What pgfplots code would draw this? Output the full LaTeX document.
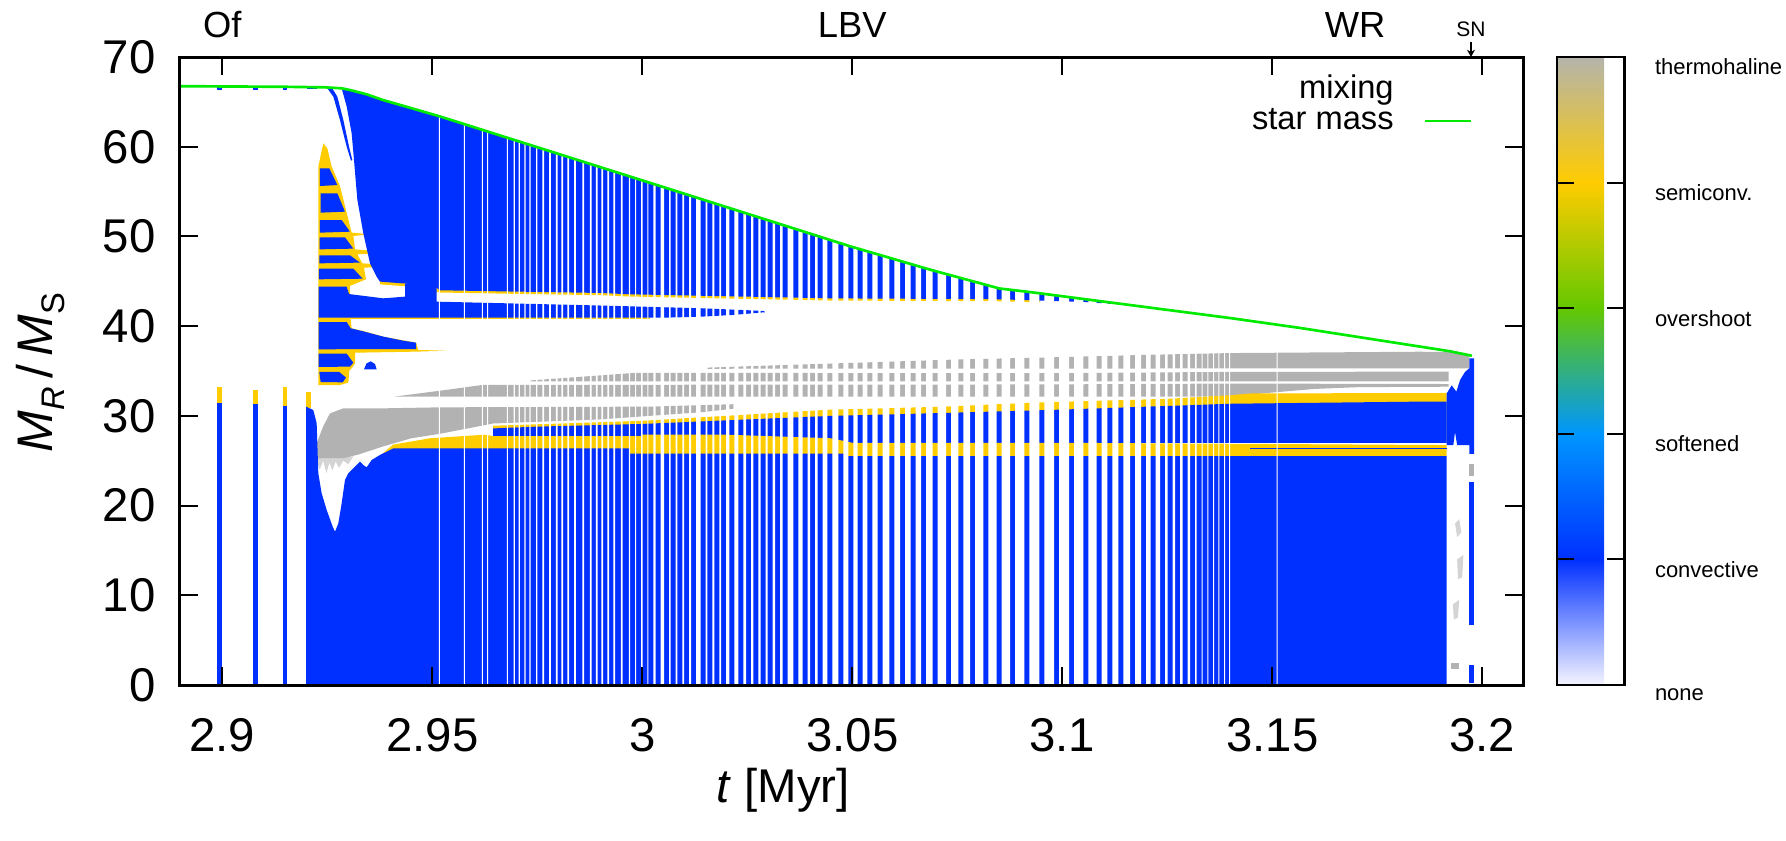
\documentclass[border=0pt]{standalone}
\usepackage{fontspec}
\setmainfont{Liberation Sans}
\usepackage{pgfplots}
\pgfplotsset{compat=1.18}
\usetikzlibrary{arrows.meta}
\definecolor{cblue}{RGB}{0,48,255}
\definecolor{cyel}{RGB}{255,204,0}
\definecolor{cgray}{RGB}{178,178,178}
\definecolor{lgray}{RGB}{212,212,212}
\definecolor{cgreen}{RGB}{0,235,0}
\pgfplotsset{
  reg/.style={draw=none, forget plot, fill=#1},
  colorbar shift/.style={xshift=10pt},
}
\begin{document}
\begin{tikzpicture}
\path[use as bounding box] (0pt,0pt) rectangle (535.8pt,252pt);
\begin{axis}[
  name=main,
  at={(54pt,46.5pt)}, anchor=south west,
  scale only axis, width=403pt, height=188.4pt,
  xmin=2.889929, xmax=3.209762, ymin=0, ymax=70,
  xtick={2.9,2.95,3,3.05,3.1,3.15,3.2},
  ytick={0,10,20,30,40,50,60,70},
  tick align=inside, major tick length=5.4pt,
  every tick/.style={black, line width=0.6pt},
  axis line style={line width=0.9pt},
  axis on top,
  /pgf/number format/assume math mode=true,
  ticklabel style={font=\fontsize{14.2}{17}\selectfont},
  yticklabel style={inner sep=0pt, xshift=-7.2pt},
  xticklabel style={inner sep=0pt, yshift=-9.9pt},
  xlabel={\textit{t} [Myr]},
  ylabel={\textit{M}\raisebox{-3.5pt}{\fontsize{9.8}{10}\selectfont\textit{R}}\,/\,\textit{M}\raisebox{-3.5pt}{\fontsize{9.8}{10}\selectfont S}},
  xlabel style={font=\fontsize{14.2}{17}\selectfont, at={(axis description cs:0.449,0)}, anchor=center, yshift=-31.5pt},
  ylabel style={font=\fontsize{15}{18}\selectfont, at={(axis description cs:-0.1036,0.4976)}, anchor=center},
  colorbar,
  colormap={kipp}{rgb255=(245,245,255) rgb255=(0,48,255) rgb255=(0,150,255) rgb255=(100,200,0) rgb255=(255,204,0) rgb255=(180,180,172)},
  point meta min=0, point meta max=5,
  colorbar style={
    at={(parent axis.north east)}, anchor=north west,
    scale only axis, width=20.3pt, height=188.4pt,
    ytick={0,1,2,3,4,5},
    yticklabels={none,convective,softened,overshoot,semiconv.,thermohaline},
    ytick pos=both, yticklabel pos=right,
    tick align=inside, major tick length=5.1pt,
    every tick/.style={black, line width=0.6pt},
    axis line style={line width=0.7pt},
    yticklabel style={font=\fontsize{6.6}{8}\selectfont, anchor=west, inner sep=0pt, xshift=9pt, yshift=-3pt},
  },
  legend style={at={(axis description cs:0.9625,0.972)}, anchor=north east, draw=none, fill=none,
    font=\fontsize{9.8}{10}\selectfont, inner sep=0pt, row sep=1.2pt, column sep=9pt, nodes={inner sep=0pt}},
  legend cell align=right, legend plot pos=right,
  legend image code/.code={\draw[#1] (0pt,0pt) -- (13.8pt,0pt);},
]
% ---- early convective bars
\addplot[reg=cyel] coordinates {(2.89867,31.3)(2.89867,33.25)(2.89986,33.25)(2.89986,31.3)};
\addplot[reg=cblue] coordinates {(2.89867,0)(2.89867,31.4)(2.89986,31.4)(2.89986,0)};
\addplot[reg=cyel] coordinates {(2.90738,31.2)(2.90738,32.9)(2.90843,32.9)(2.90843,31.2)};
\addplot[reg=cblue] coordinates {(2.90738,0)(2.90738,31.3)(2.90843,31.3)(2.90843,0)};
\addplot[reg=cyel] coordinates {(2.91438,31.0)(2.91438,33.25)(2.91540,33.25)(2.91540,31.0)};
\addplot[reg=cblue] coordinates {(2.91438,0)(2.91438,31.1)(2.91540,31.1)(2.91540,0)};
\addplot[reg=cyel] coordinates {(2.91993,30.9)(2.91993,32.7)(2.92112,32.7)(2.92112,30.9)};
\addplot[reg=cblue] coordinates {(2.89867,66.35)(2.89867,66.65)(2.89986,66.65)(2.89986,66.35)};
\addplot[reg=cblue] coordinates {(2.90738,66.35)(2.90738,66.62)(2.90843,66.62)(2.90843,66.35)};
\addplot[reg=cblue] coordinates {(2.91438,66.35)(2.91438,66.6)(2.91540,66.6)(2.91540,66.35)};
\addplot[reg=cblue] coordinates {(2.92009,66.38)(2.92009,66.6)(2.92247,66.6)(2.92247,66.38)};
% ---- thermohaline regions
\addplot[reg=lgray] coordinates {(2.92247,25.3)(2.9232,24.0)(2.9240,25.0)(2.9248,23.6)(2.9255,24.8)(2.9262,23.9)(2.9270,24.9)(2.9278,24.2)(2.9288,25.0)(2.9300,24.6)(2.9312,25.5)(2.9290,25.4)};
\addplot[reg=cgray] coordinates {(2.92247,25.27)(2.92247,26.94)(2.9240,28.8)(2.92564,30.28)(2.92882,30.84)(2.93834,30.84)(2.95183,30.95)(3.0018,31.03)(3.014,31.2)(3.0217,31.3)(3.0217,30.8)(3.014,30.4)(3.0018,30.0)(2.99,29.6)(2.9645,29.15)(2.9518,28.0)(2.945,27.5)(2.93834,26.6)(2.9325,25.7)(2.9290,25.3)};
\addplot[reg=cgray] coordinates {(2.9410,32.15)(2.9518,32.8)(2.962,33.45)(3.0947,33.5)(3.1399,33.6)(3.1920,33.55)(3.1920,33.25)(3.1705,33.2)(3.16,33.0)(3.15,32.6)(3.1399,32.15)};
\addplot[reg=cgray] coordinates {(2.9733,33.85)(2.9733,33.95)(2.9985,34.8)(3.0947,34.75)(3.14,34.9)(3.1920,34.93)(3.1920,33.85)};
\addplot[reg=cgray] coordinates {(3.0155,35.25)(3.0155,35.38)(3.036,35.7)(3.056,36.0)(3.076,36.3)(3.0955,36.5)(3.12,36.8)(3.14,37.0)(3.185,37.15)(3.1925,37.12)(3.1969,36.72)(3.1969,35.3)};
% ---- core and inner layers
\addplot[reg=cyel] coordinates {(2.9645,27.0)(2.9645,28.9)(3.0,29.45)(3.045,30.7)(3.07,31.0)(3.0947,31.5)(3.125,31.9)(3.14,32.3)(3.145,32.5)(3.19152,32.55)(3.19152,27.0)};
\addplot[reg=cblue] coordinates {(2.9645,27.0)(2.9645,28.6)(2.975,28.8)(3.0,29.1)(3.045,30.0)(3.07,30.3)(3.1,30.7)(3.14,31.35)(3.1876,31.6)(3.19152,31.6)(3.19152,27.0)};
\addplot[reg=cyel] coordinates {(2.93755,25.5)(2.93914,26.2)(2.94072,26.8)(2.9494,27.5)(2.9625,27.9)(2.9645,27.75)(2.9995,27.75)(3.0,27.9)(3.02,27.9)(3.045,27.5)(3.05,27.0)(3.1,27.0)(3.19,26.75)(3.19152,26.75)(3.19152,25.4)(2.9400,25.4)};
\addplot[reg=cblue] coordinates {(3.14469,26.3)(3.19152,26.3)(3.19152,26.45)(3.14469,26.45)};
\addplot[reg=cblue] coordinates {(2.91993,0)(2.91993,31.03)(2.92167,30.65)(2.92247,29.17)(2.92286,23.6)(2.92366,21.37)(2.92485,19.51)(2.92628,17.65)(2.92683,17.09)(2.92763,18.02)(2.92842,20.25)(2.92921,22.85)(2.93001,23.6)(2.93120,24.15)(2.93279,24.9)(2.93358,24.52)(2.93437,24.26)(2.93556,25.08)(2.93755,25.64)(2.93914,26.01)(2.94072,26.38)(2.9970,26.38)(2.9970,25.8)(3.048,25.8)(3.048,25.5)(3.19152,25.5)(3.19152,0)};
% ---- semiconvective fingers and upper shells
\addplot[reg=cyel] coordinates {(2.92286,33.44)(2.92286,57.78)(2.92405,60.38)(2.92501,59.82)(2.92604,57.78)(2.92802,55.62)(2.92961,52.65)(2.93080,50.42)(2.93533,50.24)(2.93120,50.05)(2.93160,48.56)(2.94072,48.19)(2.93215,48.01)(2.93334,47.00)(2.94310,46.71)(2.93374,46.52)(2.93421,45.22)(2.93040,44.48)(2.93025,40.95)(2.93056,40.76)(2.93080,39.76)(2.93358,39.46)(2.93834,38.83)(2.94612,38.16)(2.94667,37.34)(2.95342,37.27)(2.94628,37.16)(2.93160,37.04)(2.93160,35.86)(2.93080,35.30)(2.93025,35.04)(2.93001,33.70)(2.92802,33.44)};
\addplot[reg=cblue] coordinates {(2.92326,57.59)(2.92548,57.59)(2.92739,55.73)(2.92326,55.62)};
\addplot[reg=cblue] coordinates {(2.92342,54.81)(2.92739,54.81)(2.92921,52.76)(2.92342,52.65)};
\addplot[reg=cblue] coordinates {(2.92326,51.83)(2.92842,51.83)(2.93040,50.53)(2.92326,50.42)};
\addplot[reg=cblue] coordinates {(2.92318,49.90)(2.92921,49.90)(2.93120,48.64)(2.92318,48.56)};
\addplot[reg=cblue] coordinates {(2.92310,47.89)(2.93040,47.89)(2.93279,47.08)(2.92310,47.00)};
\addplot[reg=cblue] coordinates {(2.92302,46.41)(2.93120,46.41)(2.93342,45.29)(2.92302,45.22)};
\addplot[reg=cblue] coordinates {(2.92295,40.46)(2.92961,40.46)(2.93056,39.76)(2.93358,39.42)(2.93834,38.83)(2.94310,38.38)(2.94612,38.16)(2.94612,37.45)(2.92295,37.42)};
\addplot[reg=cblue] coordinates {(2.92295,36.93)(2.92961,36.93)(2.93120,35.93)(2.93040,35.49)(2.92295,35.45)};
\addplot[reg=cblue] coordinates {(2.93374,35.19)(2.93437,35.86)(2.93533,36.08)(2.93636,35.78)(2.93675,35.19)};
\addplot[reg=cblue] coordinates {(2.92310,34.89)(2.92786,34.89)(2.92945,34.26)(2.92866,33.74)(2.92342,33.77)};
\addplot[reg=cyel] coordinates {(2.92286,40.75)(3.0018,40.75)(3.0018,40.97)(2.92286,40.97)};
\addplot[reg=cyel] coordinates {(2.93755,45.3)(2.93755,44.66)(2.9435,44.45)(2.9518,43.75)(2.97,43.6)(2.99,43.45)(2.997,43.3)(3.0447,42.85)(3.0844,42.78)(3.0947,42.65)(3.0947,43.2)(2.9518,44.3)(2.9435,45.0)};
\addplot[reg=cblue] coordinates {(2.92295,44.40)(2.92961,44.40)(2.93017,43.58)(2.93834,43.10)(2.94350,43.29)(2.94350,44.70)(2.95104,44.70)(2.95104,42.73)(2.98993,42.3)(3.01374,42.0)(3.02881,41.7)(3.0292,41.6)(3.0292,41.55)(3.0217,41.25)(3.0137,41.05)(3.0058,40.95)(2.92295,40.95)};
\addplot[reg=cblue] coordinates {(2.92842,66.51)(2.9304,66.32)(2.9343,65.85)(2.9383,65.2)(2.9450,64.3)(2.952,63.35)(3.002,55.95)(3.0495,48.9)(3.0685,46.3)(3.085,44.2)(3.0923,43.8)(3.105,43.03)(3.117,42.3)(3.105,42.7)(3.0947,42.85)(3.0844,43.0)(3.0447,43.1)(2.997,43.55)(2.99,43.7)(2.97,43.85)(2.9518,44.0)(2.951,44.3)(2.9435,44.75)(2.93755,44.96)(2.93675,45.52)(2.93517,47.0)(2.93358,50.35)(2.93215,54.1)(2.93136,58.5)(2.93080,61.5)(2.92961,64.5)};
\addplot[reg=cblue] coordinates {(2.92485,66.62)(2.92604,66.62)(2.92739,65.58)(2.92882,62.98)(2.93017,60.01)(2.93096,58.52)(2.93064,58.45)(2.92961,60.01)(2.92802,62.98)(2.92644,65.58)};
% ---- final phase
\addplot[reg=cblue] coordinates {(3.19152,26.75)(3.1931,26.75)(3.1935,28.2)(3.1940,26.75)(3.19690,26.75)(3.19690,25.75)(3.19802,25.75)(3.19802,36.41)(3.19690,36.41)(3.19690,35.3)(3.19588,34.9)(3.1947,34.0)(3.19382,32.7)(3.19271,33.4)(3.19152,32.5)};
\addplot[reg=cblue] coordinates {(3.19690,6.69)(3.19690,22.66)(3.19802,22.66)(3.19802,6.69)};
\addplot[reg=cblue] coordinates {(3.19690,0.18)(3.19690,2.23)(3.19802,2.23)(3.19802,0.18)};
\addplot[reg=cgray] coordinates {(3.19690,23.3)(3.19690,24.6)(3.19802,24.6)(3.19802,23.3)};
\addplot[reg=lgray] coordinates {(3.1935,18)(3.1945,18.5)(3.1950,17)(3.1940,16.5)};
\addplot[reg=lgray] coordinates {(3.1940,14)(3.1955,14.5)(3.1952,12)(3.1942,11.8)};
\addplot[reg=lgray] coordinates {(3.1930,9)(3.1945,9.5)(3.1942,7.5)(3.1932,7.3)};
\addplot[reg=cgray] coordinates {(3.1925,1.8)(3.1925,2.5)(3.1945,2.5)(3.1945,1.8)};
% ---- gaps between the stored profiles
\addplot[reg=white] coordinates {
(2.95154,0)(2.95154,70)(2.95180,70)(2.95180,0)
(2.95749,0)(2.95749,70)(2.95775,70)(2.95775,0)
(2.96178,0)(2.96178,70)(2.96204,70)(2.96204,0)
(2.96306,0)(2.96306,70)(2.96332,70)(2.96332,0)
(2.96773,0)(2.96773,70)(2.96799,70)(2.96799,0)
(2.96939,0)(2.96939,70)(2.96965,70)(2.96965,0)
(2.97058,0)(2.97058,70)(2.97084,70)(2.97084,0)
(2.97194,0)(2.97194,70)(2.97220,70)(2.97220,0)
(2.97313,0)(2.97313,70)(2.97339,70)(2.97339,0)
(2.97473,0)(2.97473,70)(2.97499,70)(2.97499,0)
(2.97623,0)(2.97623,70)(2.97663,70)(2.97663,0)
(2.97782,0)(2.97782,70)(2.97822,70)(2.97822,0)
(2.97942,0)(2.97942,70)(2.97982,70)(2.97982,0)
(2.98075,0)(2.98075,70)(2.98115,70)(2.98115,0)
(2.98218,0)(2.98218,70)(2.98258,70)(2.98258,0)
(2.98378,0)(2.98378,70)(2.98418,70)(2.98418,0)
(2.98575,0)(2.98575,70)(2.98615,70)(2.98615,0)
(2.98751,0)(2.98751,70)(2.98791,70)(2.98791,0)
(2.98894,0)(2.98894,70)(2.98934,70)(2.98934,0)
(2.99028,0)(2.99028,70)(2.99068,70)(2.99068,0)
(2.99171,0)(2.99171,70)(2.99211,70)(2.99211,0)
(2.99313,0)(2.99313,70)(2.99353,70)(2.99353,0)
(2.99490,0)(2.99490,70)(2.99530,70)(2.99530,0)
(2.99680,0)(2.99680,70)(2.99707,70)(2.99707,0)
(2.99826,0)(2.99826,70)(2.99850,70)(2.99850,0)
(2.99969,0)(2.99969,70)(3.00010,70)(3.00010,0)
(3.00119,0)(3.00119,70)(3.00143,70)(3.00143,0)
(3.00262,0)(3.00262,70)(3.00319,70)(3.00319,0)
(3.00438,0)(3.00438,70)(3.00517,70)(3.00517,0)
(3.00636,0)(3.00636,70)(3.00676,70)(3.00676,0)
(3.00795,0)(3.00795,70)(3.00833,70)(3.00833,0)
(3.00952,0)(3.00952,70)(3.00993,70)(3.00993,0)
(3.01112,0)(3.01112,70)(3.01160,70)(3.01160,0)
(3.01279,0)(3.01279,70)(3.01391,70)(3.01391,0)
(3.01510,0)(3.01510,70)(3.01548,70)(3.01548,0)
(3.01667,0)(3.01667,70)(3.01714,70)(3.01714,0)
(3.01833,0)(3.01833,70)(3.01874,70)(3.01874,0)
(3.01993,0)(3.01993,70)(3.02071,70)(3.02071,0)
(3.02190,0)(3.02190,70)(3.02286,70)(3.02286,0)
(3.02405,0)(3.02405,70)(3.02469,70)(3.02469,0)
(3.02588,0)(3.02588,70)(3.02643,70)(3.02643,0)
(3.02762,0)(3.02762,70)(3.02819,70)(3.02819,0)
(3.02938,0)(3.02938,70)(3.02986,70)(3.02986,0)
(3.03105,0)(3.03105,70)(3.03160,70)(3.03160,0)
(3.03279,0)(3.03279,70)(3.03343,70)(3.03343,0)
(3.03462,0)(3.03462,70)(3.03595,70)(3.03595,0)
(3.03714,0)(3.03714,70)(3.03819,70)(3.03819,0)
(3.03938,0)(3.03938,70)(3.03993,70)(3.03993,0)
(3.04112,0)(3.04112,70)(3.04176,70)(3.04176,0)
(3.04295,0)(3.04295,70)(3.04405,70)(3.04405,0)
(3.04524,0)(3.04524,70)(3.04667,70)(3.04667,0)
(3.04786,0)(3.04786,70)(3.04905,70)(3.04905,0)
(3.05024,0)(3.05024,70)(3.05129,70)(3.05129,0)
(3.05248,0)(3.05248,70)(3.05357,70)(3.05357,0)
(3.05476,0)(3.05476,70)(3.05605,70)(3.05605,0)
(3.05724,0)(3.05724,70)(3.05881,70)(3.05881,0)
(3.06000,0)(3.06000,70)(3.06136,70)(3.06136,0)
(3.06255,0)(3.06255,70)(3.06391,70)(3.06391,0)
(3.06510,0)(3.06510,70)(3.06636,70)(3.06636,0)
(3.06755,0)(3.06755,70)(3.06914,70)(3.06914,0)
(3.07033,0)(3.07033,70)(3.07231,70)(3.07231,0)
(3.07350,0)(3.07350,70)(3.07524,70)(3.07524,0)
(3.07643,0)(3.07643,70)(3.07802,70)(3.07802,0)
(3.07921,0)(3.07921,70)(3.08119,70)(3.08119,0)
(3.08238,0)(3.08238,70)(3.08438,70)(3.08438,0)
(3.08557,0)(3.08557,70)(3.08755,70)(3.08755,0)
(3.08874,0)(3.08874,70)(3.09095,70)(3.09095,0)
(3.09214,0)(3.09214,70)(3.09452,70)(3.09452,0)
(3.09571,0)(3.09571,70)(3.09802,70)(3.09802,0)
(3.09921,0)(3.09921,70)(3.10160,70)(3.10160,0)
(3.10279,0)(3.10279,70)(3.10500,70)(3.10500,0)
(3.10619,0)(3.10619,70)(3.10819,70)(3.10819,0)
(3.10938,0)(3.10938,70)(3.11071,70)(3.11071,0)
(3.11190,0)(3.11190,70)(3.11333,70)(3.11333,0)
(3.11452,0)(3.11452,70)(3.11612,70)(3.11612,0)
(3.11731,0)(3.11731,70)(3.11874,70)(3.11874,0)
(3.11993,0)(3.11993,70)(3.12105,70)(3.12105,0)
(3.12224,0)(3.12224,70)(3.12326,70)(3.12326,0)
(3.12445,0)(3.12445,70)(3.12510,70)(3.12510,0)
(3.12629,0)(3.12629,70)(3.12683,70)(3.12683,0)
(3.12802,0)(3.12802,70)(3.12867,70)(3.12867,0)
(3.12986,0)(3.12986,70)(3.13041,70)(3.13041,0)
(3.13160,0)(3.13160,70)(3.13200,70)(3.13200,0)
(3.13319,0)(3.13319,70)(3.13343,70)(3.13343,0)
(3.13452,0)(3.13452,70)(3.13476,70)(3.13476,0)
(3.13588,0)(3.13588,70)(3.13612,70)(3.13612,0)
(3.13714,0)(3.13714,70)(3.13738,70)(3.13738,0)
(3.13850,0)(3.13850,70)(3.13874,70)(3.13874,0)
(3.13969,0)(3.13969,70)(3.13993,70)(3.13993,0)
(3.15100,0)(3.15100,70)(3.15124,70)(3.15124,0)
};
% ---- legend and star mass
\addlegendimage{empty legend}
\addlegendentry{mixing}
\addplot[cgreen, line width=0.8pt] coordinates {(2.889929,66.75)(2.9000,66.72)(2.9150,66.68)(2.9245,66.62)(2.92842,66.51)(2.9304,66.32)(2.9343,65.85)(2.9383,65.2)(2.9450,64.3)(2.952,63.35)(3.002,55.95)(3.0495,48.9)(3.0685,46.3)(3.085,44.2)(3.0923,43.8)(3.105,43.03)(3.117,42.3)(3.14,40.9)(3.1566,39.8)(3.1923,37.2)(3.1975,36.7)};
\addlegendentry{star mass}
\coordinate (of) at (axis cs:2.9,70);
\coordinate (lbv) at (axis cs:3.05,70);
\coordinate (wr) at (axis cs:3.1697,70);
\coordinate (sn) at (axis cs:3.1973,70);
\end{axis}
\node[font=\fontsize{10.9}{12}\selectfont] at ([yshift=9.6pt]of) {Of};
\node[font=\fontsize{10.9}{12}\selectfont] at ([yshift=9.6pt]lbv) {LBV};
\node[font=\fontsize{10.9}{12}\selectfont] at ([yshift=9.6pt]wr) {WR};
\node[font=\fontsize{6.3}{7}\selectfont] at ([yshift=8.4pt]sn) {SN};
\draw[line width=0.5pt, -{Stealth[length=2.2pt,width=2.4pt]}] ([yshift=4.6pt]sn) -- (sn);
\end{tikzpicture}
\end{document}
